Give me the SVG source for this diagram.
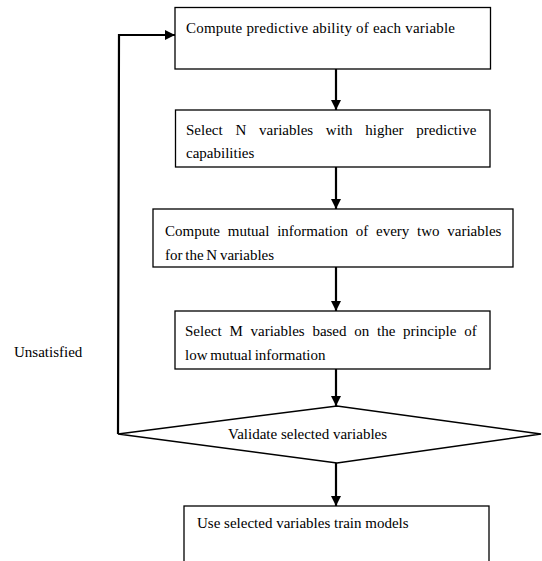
<svg xmlns="http://www.w3.org/2000/svg" width="542" height="561" viewBox="0 0 542 561">
<style>
.box{fill:#fff;stroke:#000;stroke-width:1.3}
.t{font-family:"Liberation Serif","Times New Roman",serif;font-size:15px;fill:#000}
.c{fill:none;stroke:#000;stroke-width:2.2}
</style>
<defs>
<marker id="ah" viewBox="0 0 10 10" refX="10" refY="5" markerWidth="10" markerHeight="10" markerUnits="userSpaceOnUse" orient="auto">
<path d="M0,0 L10,5 L0,10 Z" fill="#000"/>
</marker>
</defs>
<rect width="542" height="561" fill="#fff"/>
<g id="n1"><rect class="box" x="175" y="7.5" width="315.5" height="61.5"/><text class="t" x="186" y="33" textLength="269">Compute predictive ability of each variable</text></g>
<g id="n2"><rect class="box" x="175.5" y="110" width="314.5" height="57"/><text class="t" x="186" y="135" word-spacing="9">Select N variables with higher predictive</text><text class="t" x="186" y="158">capabilities</text></g>
<g id="n3"><rect class="box" x="153" y="209" width="360" height="58"/><text class="t" x="165" y="236" word-spacing="4">Compute mutual information of every two variables</text><text class="t" x="165" y="260" word-spacing="-1">for the N variables</text></g>
<g id="n4"><rect class="box" x="175" y="311" width="315" height="58"/><text class="t" x="185" y="336" word-spacing="4">Select M variables based on the principle of</text><text class="t" x="185" y="360" word-spacing="-1">low mutual information</text></g>
<g id="n5"><polygon class="box" points="118,434 337,406 541,434 337,463" style="stroke-width:1.5"/><text class="t" x="228" y="439">Validate selected variables</text></g>
<g id="n6"><rect class="box" x="184" y="506" width="305" height="60"/><text class="t" x="197" y="528">Use selected variables train models</text></g>
<g id="lbl"><text class="t" x="14" y="357">Unsatisfied</text></g>
<g id="connectors">
<line class="c" x1="336" y1="69" x2="336" y2="110" marker-end="url(#ah)"/>
<line class="c" x1="336" y1="167" x2="336" y2="209" marker-end="url(#ah)"/>
<line class="c" x1="336" y1="267" x2="336" y2="311" marker-end="url(#ah)"/>
<line class="c" x1="336" y1="369" x2="336" y2="406" marker-end="url(#ah)"/>
<line class="c" x1="336" y1="463" x2="336" y2="506" marker-end="url(#ah)"/>
<polyline class="c" points="118,434 119,35 175,35" marker-end="url(#ah)"/>
</g>
</svg>
